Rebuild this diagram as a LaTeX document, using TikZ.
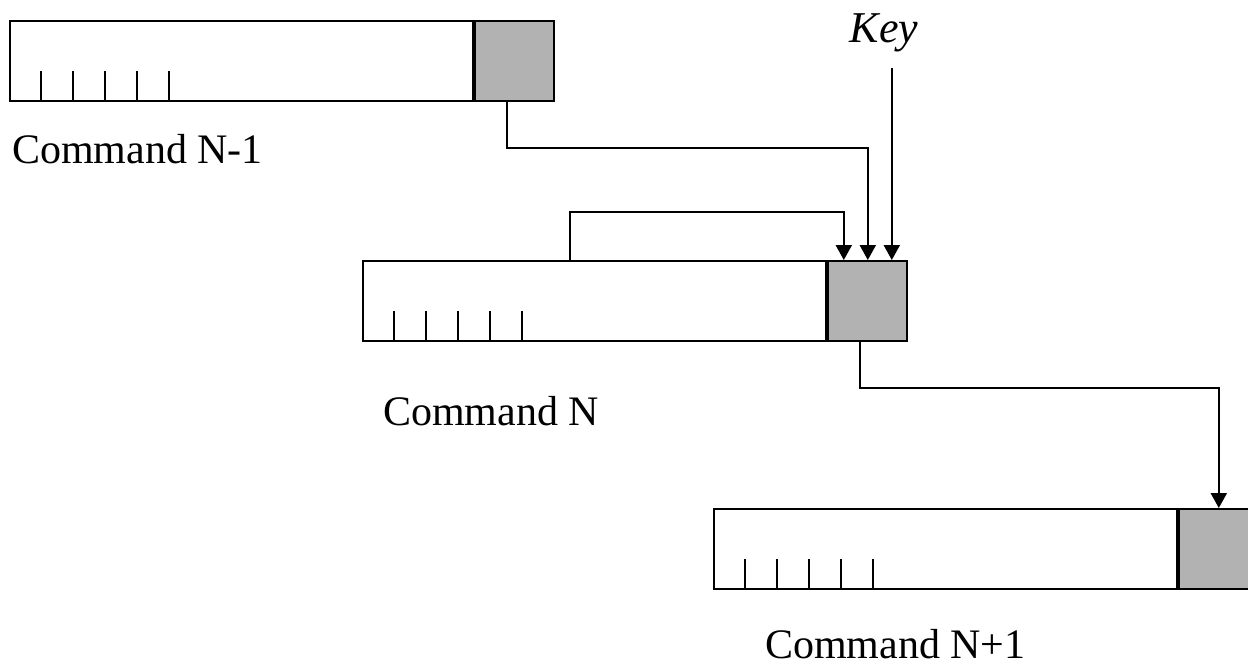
\documentclass[tikz,border=0pt]{standalone}
\usepackage{fontspec}
\setmainfont{Liberation Serif}
\usetikzlibrary{arrows.meta}
\definecolor{keygray}{RGB}{178,178,178}
\tikzset{cmdbox/.style={rectangle, draw, fill=white, inner sep=0pt, minimum width=463pt, minimum height=80pt, anchor=north west},
  keybox/.style={rectangle, draw, fill=keygray, inner sep=0pt, minimum width=79pt, minimum height=80pt, anchor=west},
  cmdlabel/.style={inner sep=0pt, anchor=base west, font=\fontsize{42}{50}\selectfont},
  link/.style={-{Triangle[width=16pt,length=15pt]}}}

\begin{document}
\begin{tikzpicture}[x=1pt,y=-1pt,line width=2.2pt]
\useasboundingbox (0,0) rectangle (1248,667);

% command N-1
\node[cmdbox] (c1) at (9,20) {};
\node[keybox] (k1) at (c1.east) {};
\foreach \i in {1,...,5} \draw[line width=1.6pt] (c1.south west) ++(32*\i,0) -- ++(0,-31);
\node[cmdlabel] (l1) at (11,163) {Command N-1};

% command N
\node[cmdbox] (c2) at (362,260) {};
\node[keybox] (k2) at (c2.east) {};
\foreach \i in {1,...,5} \draw[line width=1.6pt] (c2.south west) ++(32*\i,0) -- ++(0,-31);
\node[cmdlabel] (l2) at (382,425) {Command N};

% command N+1
\node[cmdbox] (c3) at (713,508) {};
\node[keybox] (k3) at (c3.east) {};
\foreach \i in {1,...,5} \draw[line width=1.6pt] (c3.south west) ++(32*\i,0) -- ++(0,-31);
\node[cmdlabel] (l3) at (764,658) {Command N+1};

\node[inner sep=0pt, anchor=base, font=\fontsize{44}{52}\selectfont\itshape] (key) at (884,42) {Key};
\coordinate (kt) at (0,68);

% bend levels
\coordinate (h1) at (0,148);
\coordinate (h2) at (0,212);
\coordinate (h3) at (0,388);
\coordinate (o1) at ([xshift=-8pt]k1.south);
\coordinate (o2) at ([xshift=208pt]c2.north west);
\coordinate (o3) at ([xshift=-8pt]k2.south);
\coordinate (i1) at ([xshift=-24pt]k2.north);
\coordinate (i2) at ([xshift=24pt]k2.north);

% links
\draw[link] (o1) -- (o1 |- h1) -| (k2.north);
\draw[link] (o2) -- (o2 |- h2) -| (i1);
\draw[link] (i2 |- kt) -- (i2);
\draw[link] (o3) -- (o3 |- h3) -| (k3.north);
\end{tikzpicture}
\end{document}
